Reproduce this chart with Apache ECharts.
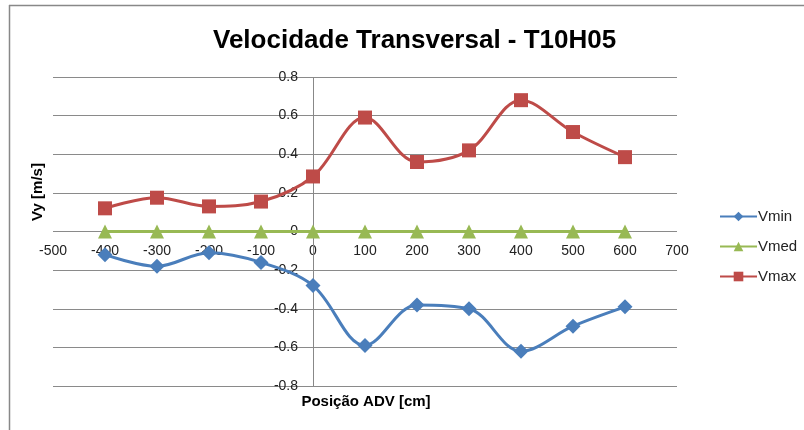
<!DOCTYPE html>
<html><head><meta charset="utf-8">
<script src="https://cdn.jsdelivr.net/npm/echarts@6/dist/echarts.min.js"></script>
<style>html,body{margin:0;padding:0;background:#fff}#c{width:804px;height:430px}</style>
</head><body><div id="c"></div>
<script>
var positions = [-400, -300, -200, -100, 0, 100, 200, 300, 400, 500, 600];
var vmin = [-0.12, -0.18, -0.11, -0.16, -0.28, -0.59, -0.38, -0.40, -0.62, -0.49, -0.39];
var vmed = [0, 0, 0, 0, 0, 0, 0, 0, 0, 0, 0];
var vmax = [0.12, 0.175, 0.13, 0.155, 0.285, 0.59, 0.36, 0.42, 0.68, 0.515, 0.385];
var seriesNames = ['Vmin', 'Vmed', 'Vmax'];
var titleText = 'Velocidade Transversal - T10H05';
var xName = 'Posição ADV [cm]';
var yName = 'Vy [m/s]';

function pairs(vals){ return positions.map(function(p,i){ return [p, vals[i]]; }); }

var chart = echarts.init(document.getElementById('c'), null, {renderer:'canvas'});
var font = 'Liberation Sans, Arial, sans-serif';
var colors = ['#4A7EBB', '#98B954', '#BE4B48'];
var symbols = ['diamond', 'triangle', 'rect'];
var sizes = [15, 14, 14];
var data = [vmin, vmed, vmax];

var gridLeft = 53, gridRight = 127, gridTop = 77, gridBottom = 44;
var plotW = 804 - gridLeft - gridRight, plotH = 430 - gridTop - gridBottom;
// shift label rows to the zero lines (axes cross at 0)
var xOffset = -plotH * (0 - (-0.8)) / 1.6;
var yOffset = -plotW * (0 - (-500)) / 1200;

chart.setOption({
  animation: false,
  title: {
    text: titleText, left: 208, top: 23,
    textStyle: {fontFamily: font, fontWeight: 'bold', fontSize: 26, color: '#000'}
  },
  graphic: [
    {type:'line', shape:{x1:9, y1:5.5, x2:804, y2:5.5}, style:{stroke:'#888', lineWidth:1.5}},
    {type:'line', shape:{x1:9.5, y1:5, x2:9.5, y2:430}, style:{stroke:'#888', lineWidth:1.5}},
    {type:'text', x:38, y:192, rotation: Math.PI/2,
      style:{text: yName, font:'bold 15px ' + font, fill:'#000', textAlign:'center', textVerticalAlign:'middle'}},
    {type:'text', x:366, y:402,
      style:{text: xName, font:'bold 15px ' + font, fill:'#000', textAlign:'center', textVerticalAlign:'middle'}}
  ],
  legend: {
    orient: 'vertical', left: 714, top: 204, itemGap: 15,
    itemWidth: 37, itemHeight: 12,
    data: seriesNames,
    textStyle: {fontFamily: font, fontSize: 15, color: '#222', padding: [0,0,0,-4]}
  },
  grid: {left: gridLeft, right: gridRight, top: gridTop, bottom: gridBottom, containLabel: false},
  xAxis: {
    type: 'value', min: -500, max: 700, interval: 100,
    offset: xOffset,
    axisLine: {show: false},
    axisTick: {show: false},
    splitLine: {show: false},
    axisLabel: {margin: 13, fontFamily: font, fontSize: 14, color: '#222'}
  },
  yAxis: {
    type: 'value', min: -0.8, max: 0.8, interval: 0.2,
    offset: yOffset,
    axisLine: {show: false},
    axisTick: {show: false},
    splitLine: {show: true, lineStyle: {color: '#8a8a8a', width: 1}},
    axisLabel: {margin: 15, fontFamily: font, fontSize: 14, color: '#222',
      formatter: function(v){ return (Math.round(v*10)/10).toString(); }}
  },
  series: seriesNames.map(function(n, k){
    var s = {
      name: n, type: 'line', data: pairs(data[k]), smooth: k === 1 ? false : 0.35,
      symbol: symbols[k], symbolSize: sizes[k], showSymbol: true,
      lineStyle: {color: colors[k], width: 3},
      itemStyle: {color: colors[k]},
      z: 5 - k
    };
    if (k === 1) {
      s.markLine = {silent: true, symbol: 'none', label: {show: false}, z: 1,
        lineStyle: {color: '#888', width: 1, type: 'solid'},
        data: [{xAxis: 0}]};
    }
    return s;
  })
});
</script></body></html>
